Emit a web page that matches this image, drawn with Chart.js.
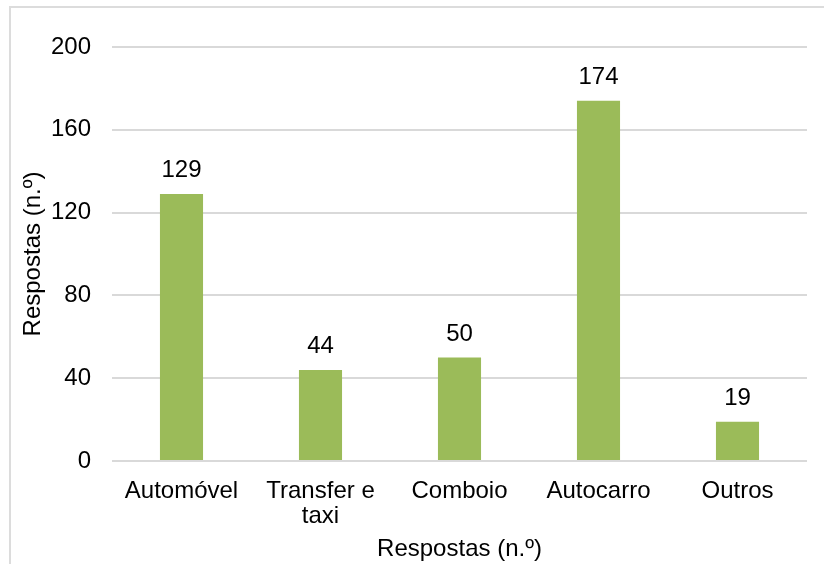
<!DOCTYPE html>
<html>
<head>
<meta charset="utf-8">
<script src="https://cdn.jsdelivr.net/npm/chart.js@4/dist/chart.umd.min.js"></script>
<style>
  html, body { margin: 0; padding: 0; background: #fff; }
  #wrap { width: 824px; height: 564px; position: relative; }
</style>
</head>
<body>
<div id="wrap"><canvas id="c" width="824" height="564"></canvas></div>
<script>
// Meios de transporte utilizados
const categories = ['Automóvel', ['Transfer e', 'taxi'], 'Comboio', 'Autocarro', 'Outros'];
const respostas = [129, 44, 50, 174, 19];
const yTicks = [0, 40, 80, 120, 160, 200];

const FONT = "'Liberation Sans', Arial, sans-serif";
const TEXT = '#000000';
const GRID = '#d9d9d9';
const BAR = '#9bbb59';

// Light frame around the chart area
const framePlugin = {
  id: 'frame',
  beforeDraw(chart) {
    const ctx = chart.ctx;
    ctx.save();
    ctx.fillStyle = '#ffffff';
    ctx.fillRect(0, 0, chart.width, chart.height);
    ctx.strokeStyle = '#dcdcdc';
    ctx.lineWidth = 2;
    ctx.strokeRect(10, 7, chart.width + 50, chart.height + 50);
    ctx.restore();
  }
};

// Value written above each bar
const valueLabels = {
  id: 'valueLabels',
  afterDatasetsDraw(chart) {
    const ctx = chart.ctx;
    const meta = chart.getDatasetMeta(0);
    ctx.save();
    ctx.font = '24px ' + FONT;
    ctx.fillStyle = TEXT;
    ctx.textAlign = 'center';
    ctx.textBaseline = 'alphabetic';
    meta.data.forEach((bar, i) => {
      ctx.fillText(String(chart.data.datasets[0].data[i]), bar.x, bar.y - 17);
    });
    ctx.restore();
  }
};

new Chart(document.getElementById('c'), {
  type: 'bar',
  data: {
    labels: categories,
    datasets: [{
      label: 'Respostas (n.º)',
      data: respostas,
      backgroundColor: BAR,
      borderWidth: 0,
      categoryPercentage: 1,
      barPercentage: 0.31
    }]
  },
  options: {
    responsive: false,
    animation: false,
    devicePixelRatio: 1,
    layout: { padding: { left: 19, right: 17, top: 47, bottom: 0 } },
    plugins: {
      legend: { display: false },
      tooltip: { enabled: false }
    },
    scales: {
      x: {
        grid: { display: false, drawTicks: false },
        border: { display: false },
        ticks: {
          color: TEXT,
          font: { family: FONT, size: 24, lineHeight: 1.05 },
          padding: 18,
          maxRotation: 0,
          autoSkip: false
        },
        title: {
          display: true,
          text: 'Respostas (n.º)',
          color: TEXT,
          font: { family: FONT, size: 24, lineHeight: 1.2 },
          padding: { top: 0, bottom: 0 }
        },
        afterFit(scale) { scale.height = 564 - 461; }
      },
      y: {
        min: 0,
        max: 200,
        afterBuildTicks(scale) { scale.ticks = yTicks.map(v => ({ value: v })); },
        grid: { color: GRID, lineWidth: 2, drawTicks: false },
        border: { display: false },
        ticks: {
          color: TEXT,
          font: { family: FONT, size: 24 },
          padding: 21
        },
        title: {
          display: true,
          text: 'Respostas (n.º)',
          color: TEXT,
          font: { family: FONT, size: 24, lineHeight: 1.2 },
          padding: { top: 0, bottom: 0 }
        },
        afterFit(scale) { scale.width = 112 - 19; }
      }
    }
  },
  plugins: [framePlugin, valueLabels]
});
</script>
</body>
</html>
